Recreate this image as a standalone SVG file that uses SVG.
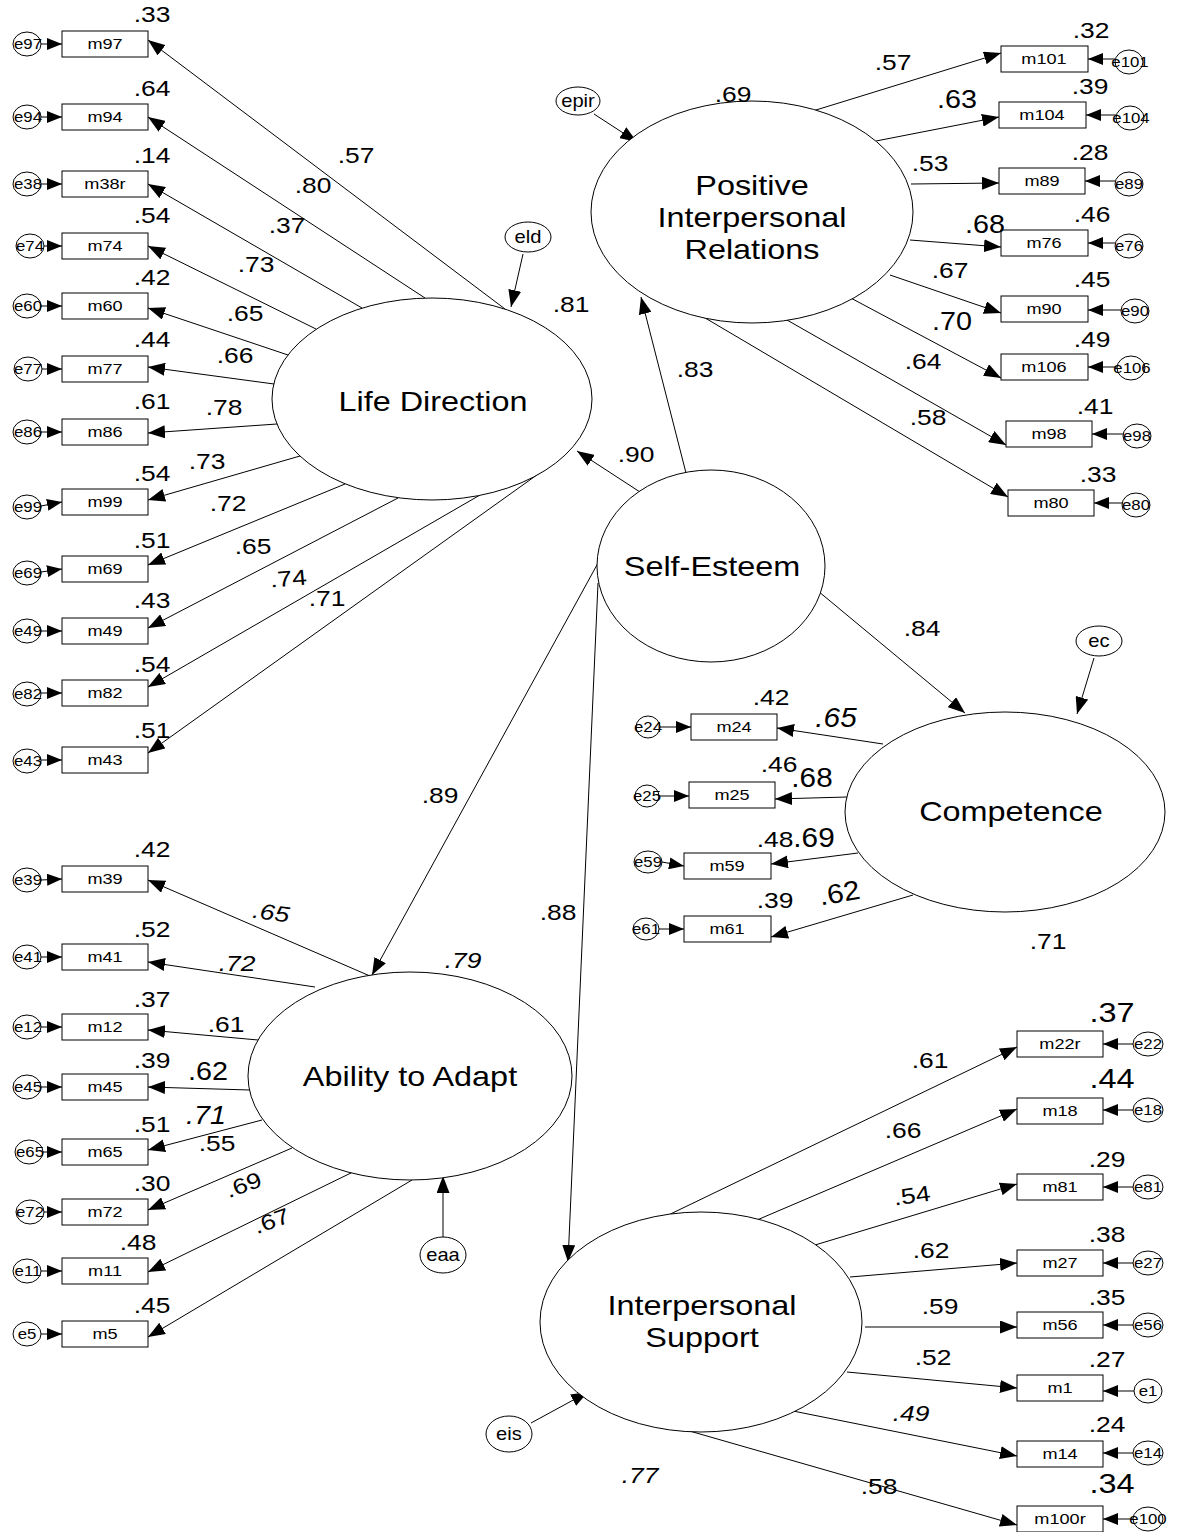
<svg xmlns="http://www.w3.org/2000/svg" width="1177" height="1532" viewBox="0 0 1177 1532">
<style>
text{font-family:"Liberation Sans",Arial,sans-serif;fill:#000;text-anchor:middle}
.lat{fill:#fff;stroke:#000;stroke-width:1}
.box{fill:#fff;stroke:#000;stroke-width:1}
.err{fill:#fff;stroke:#000;stroke-width:1}
.bl{font-size:14.5px}
.el{font-size:14px}
.es{font-size:18px}
.n{font-size:22px}
.nm{font-size:25px}
.nb{font-size:27px}
.ln{font-size:27px}
.it{font-style:italic}
#conn line{stroke:#000;stroke-width:1;marker-end:url(#ah)}
#conn line.s{marker-end:url(#ahs)}
</style>
<defs>
<marker id="ah" markerWidth="17" markerHeight="13" refX="17" refY="6.5" orient="auto" markerUnits="userSpaceOnUse"><path d="M0,0 L17,6.5 L0,13 z" fill="#000"/></marker>
<marker id="ahs" markerWidth="15" markerHeight="12" refX="15" refY="6" orient="auto" markerUnits="userSpaceOnUse"><path d="M0,0 L15,6 L0,12 z" fill="#000"/></marker>
</defs>
<rect width="1177" height="1532" fill="#fff"/>

<g id="conn">
<line x1="505" y1="309" x2="148" y2="40"/>
<line x1="425" y1="298" x2="148" y2="117"/>
<line x1="362" y1="308" x2="148" y2="184"/>
<line x1="316" y1="329" x2="148" y2="246"/>
<line x1="288" y1="355" x2="148" y2="308"/>
<line x1="274" y1="384" x2="148" y2="367"/>
<line x1="277" y1="424" x2="148" y2="433"/>
<line x1="300" y1="456" x2="148" y2="500"/>
<line x1="345" y1="484" x2="148" y2="565"/>
<line x1="398" y1="498" x2="148" y2="628"/>
<line x1="480" y1="495" x2="148" y2="687"/>
<line x1="541" y1="472" x2="148" y2="753"/>
<line x1="370" y1="976" x2="148" y2="880"/>
<line x1="315" y1="987" x2="148" y2="962"/>
<line x1="258" y1="1040" x2="148" y2="1030"/>
<line x1="250" y1="1090" x2="148" y2="1087"/>
<line x1="262" y1="1120" x2="148" y2="1150"/>
<line x1="292" y1="1148" x2="148" y2="1210"/>
<line x1="355" y1="1171" x2="148" y2="1272"/>
<line x1="412" y1="1180" x2="148" y2="1337"/>
<line x1="803" y1="114" x2="1001" y2="53"/>
<line x1="876" y1="141" x2="999" y2="117"/>
<line x1="911" y1="184" x2="999" y2="183"/>
<line x1="910" y1="240" x2="1001" y2="247"/>
<line x1="890" y1="275" x2="1001" y2="313"/>
<line x1="847" y1="296" x2="1001" y2="378"/>
<line x1="780" y1="316" x2="1006" y2="445"/>
<line x1="695" y1="312" x2="1008" y2="497"/>
<line x1="883" y1="744" x2="777" y2="728"/>
<line x1="847" y1="797" x2="775" y2="799"/>
<line x1="858" y1="853" x2="771" y2="864"/>
<line x1="913" y1="895" x2="771" y2="937"/>
<line x1="658" y1="1220" x2="1017" y2="1047"/>
<line x1="757" y1="1220" x2="1017" y2="1109"/>
<line x1="815" y1="1245" x2="1017" y2="1184"/>
<line x1="850" y1="1277" x2="1017" y2="1263"/>
<line x1="865" y1="1327" x2="1017" y2="1327"/>
<line x1="847" y1="1372" x2="1017" y2="1388"/>
<line x1="793" y1="1411" x2="1017" y2="1456"/>
<line x1="686" y1="1430" x2="1017" y2="1525"/>
<line x1="640" y1="492" x2="577" y2="451"/>
<line x1="686" y1="473" x2="641" y2="297"/>
<line x1="818" y1="591" x2="965" y2="713"/>
<line x1="598" y1="563" x2="372" y2="975"/>
<line x1="598" y1="583" x2="568" y2="1262"/>
<line x1="523" y1="254" x2="511" y2="307"/>
<line x1="594" y1="114" x2="637" y2="142"/>
<line x1="1094" y1="658" x2="1077" y2="714"/>
<line x1="443" y1="1237" x2="443" y2="1176"/>
<line x1="531" y1="1423" x2="588" y2="1392"/>
<line class="s" x1="41" y1="44" x2="62" y2="44"/>
<line class="s" x1="41" y1="117" x2="62" y2="117"/>
<line class="s" x1="41" y1="184" x2="62" y2="184"/>
<line class="s" x1="44" y1="246" x2="62" y2="246"/>
<line class="s" x1="41" y1="306" x2="62" y2="306"/>
<line class="s" x1="42" y1="369" x2="62" y2="369"/>
<line class="s" x1="41" y1="432" x2="62" y2="432"/>
<line class="s" x1="41" y1="506" x2="62" y2="502"/>
<line class="s" x1="41" y1="572" x2="62" y2="569"/>
<line class="s" x1="41" y1="631" x2="62" y2="631"/>
<line class="s" x1="41" y1="693" x2="62" y2="693"/>
<line class="s" x1="41" y1="760" x2="62" y2="760"/>
<line class="s" x1="41" y1="880" x2="62" y2="879"/>
<line class="s" x1="41" y1="957" x2="62" y2="957"/>
<line class="s" x1="41" y1="1027" x2="62" y2="1027"/>
<line class="s" x1="41" y1="1087" x2="62" y2="1087"/>
<line class="s" x1="43" y1="1152" x2="62" y2="1152"/>
<line class="s" x1="44" y1="1212" x2="62" y2="1212"/>
<line class="s" x1="41" y1="1271" x2="62" y2="1271"/>
<line class="s" x1="41" y1="1334" x2="62" y2="1334"/>
<line class="s" x1="1115" y1="59" x2="1088" y2="59"/>
<line class="s" x1="1116" y1="115" x2="1086" y2="115"/>
<line class="s" x1="1115" y1="181" x2="1085" y2="181"/>
<line class="s" x1="1115" y1="243" x2="1088" y2="243"/>
<line class="s" x1="1121" y1="310" x2="1088" y2="310"/>
<line class="s" x1="1117" y1="367" x2="1088" y2="367"/>
<line class="s" x1="1123" y1="434" x2="1092" y2="434"/>
<line class="s" x1="1122" y1="503" x2="1094" y2="503"/>
<line class="s" x1="660" y1="727" x2="691" y2="727"/>
<line class="s" x1="659" y1="796" x2="689" y2="796"/>
<line class="s" x1="662" y1="862" x2="684" y2="866"/>
<line class="s" x1="659" y1="929" x2="684" y2="929"/>
<line class="s" x1="1134" y1="1044" x2="1103" y2="1044"/>
<line class="s" x1="1134" y1="1110" x2="1103" y2="1110"/>
<line class="s" x1="1134" y1="1187" x2="1103" y2="1187"/>
<line class="s" x1="1134" y1="1263" x2="1103" y2="1263"/>
<line class="s" x1="1134" y1="1325" x2="1103" y2="1325"/>
<line class="s" x1="1134" y1="1391" x2="1103" y2="1391"/>
<line class="s" x1="1134" y1="1453" x2="1103" y2="1453"/>
<line class="s" x1="1134" y1="1519" x2="1103" y2="1519"/>
</g>

<g id="LD"><ellipse class="lat" cx="432" cy="399" rx="160" ry="101"/><text class="ln" transform="translate(433,411) scale(1.2,1)">Life Direction</text></g>
<g id="PIR"><ellipse class="lat" cx="752" cy="212" rx="161" ry="111"/><text class="ln" transform="translate(752,195) scale(1.2,1)">Positive</text><text class="ln" transform="translate(752,227) scale(1.2,1)">Interpersonal</text><text class="ln" transform="translate(752,259) scale(1.2,1)">Relations</text></g>
<g id="SE"><ellipse class="lat" cx="711" cy="566" rx="114" ry="96"/><text class="ln" transform="translate(712,576) scale(1.2,1)">Self-Esteem</text></g>
<g id="COMP"><ellipse class="lat" cx="1005" cy="812" rx="160" ry="100"/><text class="ln" transform="translate(1011,821) scale(1.2,1)">Competence</text></g>
<g id="AA"><ellipse class="lat" cx="410" cy="1076" rx="162" ry="104"/><text class="ln" transform="translate(410,1086) scale(1.2,1)">Ability to Adapt</text></g>
<g id="IS"><ellipse class="lat" cx="701" cy="1322" rx="161" ry="110"/><text class="ln" transform="translate(702,1315) scale(1.2,1)">Interpersonal</text><text class="ln" transform="translate(702,1347) scale(1.2,1)">Support</text></g>

<g id="eld"><ellipse class="err" cx="528" cy="237" rx="23" ry="15"/><text class="es" transform="translate(528,243) scale(1.12,1)">eld</text></g>
<g id="epir"><ellipse class="err" cx="578" cy="101" rx="22" ry="14"/><text class="es" transform="translate(578,107) scale(1.12,1)">epir</text></g>
<g id="ec"><ellipse class="err" cx="1099" cy="641" rx="23" ry="15"/><text class="es" transform="translate(1099,647) scale(1.12,1)">ec</text></g>
<g id="eaa"><ellipse class="err" cx="443" cy="1255" rx="23" ry="18"/><text class="es" transform="translate(443,1261) scale(1.12,1)">eaa</text></g>
<g id="eis"><ellipse class="err" cx="509" cy="1434" rx="23" ry="18"/><text class="es" transform="translate(509,1440) scale(1.12,1)">eis</text></g>

<g id="m97"><rect class="box" x="62" y="31" width="86" height="26"/><text class="bl" transform="translate(105,49) scale(1.25,1)">m97</text></g>
<g id="m94"><rect class="box" x="62" y="104" width="86" height="26"/><text class="bl" transform="translate(105,122) scale(1.25,1)">m94</text></g>
<g id="m38r"><rect class="box" x="62" y="171" width="86" height="26"/><text class="bl" transform="translate(105,189) scale(1.25,1)">m38r</text></g>
<g id="m74"><rect class="box" x="62" y="233" width="86" height="26"/><text class="bl" transform="translate(105,251) scale(1.25,1)">m74</text></g>
<g id="m60"><rect class="box" x="62" y="293" width="86" height="26"/><text class="bl" transform="translate(105,311) scale(1.25,1)">m60</text></g>
<g id="m77"><rect class="box" x="62" y="356" width="86" height="26"/><text class="bl" transform="translate(105,374) scale(1.25,1)">m77</text></g>
<g id="m86"><rect class="box" x="62" y="419" width="86" height="26"/><text class="bl" transform="translate(105,437) scale(1.25,1)">m86</text></g>
<g id="m99"><rect class="box" x="62" y="489" width="86" height="26"/><text class="bl" transform="translate(105,507) scale(1.25,1)">m99</text></g>
<g id="m69"><rect class="box" x="62" y="556" width="86" height="26"/><text class="bl" transform="translate(105,574) scale(1.25,1)">m69</text></g>
<g id="m49"><rect class="box" x="62" y="618" width="86" height="26"/><text class="bl" transform="translate(105,636) scale(1.25,1)">m49</text></g>
<g id="m82"><rect class="box" x="62" y="680" width="86" height="26"/><text class="bl" transform="translate(105,698) scale(1.25,1)">m82</text></g>
<g id="m43"><rect class="box" x="62" y="747" width="86" height="26"/><text class="bl" transform="translate(105,765) scale(1.25,1)">m43</text></g>

<g id="m39"><rect class="box" x="62" y="866" width="86" height="26"/><text class="bl" transform="translate(105,884) scale(1.25,1)">m39</text></g>
<g id="m41"><rect class="box" x="62" y="944" width="86" height="26"/><text class="bl" transform="translate(105,962) scale(1.25,1)">m41</text></g>
<g id="m12"><rect class="box" x="62" y="1014" width="86" height="26"/><text class="bl" transform="translate(105,1032) scale(1.25,1)">m12</text></g>
<g id="m45"><rect class="box" x="62" y="1074" width="86" height="26"/><text class="bl" transform="translate(105,1092) scale(1.25,1)">m45</text></g>
<g id="m65"><rect class="box" x="62" y="1139" width="86" height="26"/><text class="bl" transform="translate(105,1157) scale(1.25,1)">m65</text></g>
<g id="m72"><rect class="box" x="62" y="1199" width="86" height="26"/><text class="bl" transform="translate(105,1217) scale(1.25,1)">m72</text></g>
<g id="m11"><rect class="box" x="62" y="1258" width="86" height="26"/><text class="bl" transform="translate(105,1276) scale(1.25,1)">m11</text></g>
<g id="m5"><rect class="box" x="62" y="1321" width="86" height="26"/><text class="bl" transform="translate(105,1339) scale(1.25,1)">m5</text></g>

<g id="m101"><rect class="box" x="1001" y="46" width="87" height="26"/><text class="bl" transform="translate(1044,64) scale(1.25,1)">m101</text></g>
<g id="m104"><rect class="box" x="999" y="102" width="87" height="26"/><text class="bl" transform="translate(1042,120) scale(1.25,1)">m104</text></g>
<g id="m89"><rect class="box" x="999" y="168" width="86" height="26"/><text class="bl" transform="translate(1042,186) scale(1.25,1)">m89</text></g>
<g id="m76"><rect class="box" x="1001" y="230" width="87" height="26"/><text class="bl" transform="translate(1044,248) scale(1.25,1)">m76</text></g>
<g id="m90"><rect class="box" x="1001" y="296" width="87" height="26"/><text class="bl" transform="translate(1044,314) scale(1.25,1)">m90</text></g>
<g id="m106"><rect class="box" x="1001" y="354" width="87" height="26"/><text class="bl" transform="translate(1044,372) scale(1.25,1)">m106</text></g>
<g id="m98"><rect class="box" x="1006" y="421" width="86" height="26"/><text class="bl" transform="translate(1049,439) scale(1.25,1)">m98</text></g>
<g id="m80"><rect class="box" x="1008" y="490" width="86" height="26"/><text class="bl" transform="translate(1051,508) scale(1.25,1)">m80</text></g>

<g id="m24"><rect class="box" x="691" y="714" width="86" height="26"/><text class="bl" transform="translate(734,732) scale(1.25,1)">m24</text></g>
<g id="m25"><rect class="box" x="689" y="782" width="86" height="26"/><text class="bl" transform="translate(732,800) scale(1.25,1)">m25</text></g>
<g id="m59"><rect class="box" x="684" y="853" width="87" height="26"/><text class="bl" transform="translate(727,871) scale(1.25,1)">m59</text></g>
<g id="m61"><rect class="box" x="684" y="916" width="87" height="26"/><text class="bl" transform="translate(727,934) scale(1.25,1)">m61</text></g>

<g id="m22r"><rect class="box" x="1017" y="1031" width="86" height="26"/><text class="bl" transform="translate(1060,1049) scale(1.25,1)">m22r</text></g>
<g id="m18"><rect class="box" x="1017" y="1098" width="86" height="26"/><text class="bl" transform="translate(1060,1116) scale(1.25,1)">m18</text></g>
<g id="m81"><rect class="box" x="1017" y="1174" width="86" height="26"/><text class="bl" transform="translate(1060,1192) scale(1.25,1)">m81</text></g>
<g id="m27"><rect class="box" x="1017" y="1250" width="86" height="26"/><text class="bl" transform="translate(1060,1268) scale(1.25,1)">m27</text></g>
<g id="m56"><rect class="box" x="1017" y="1312" width="86" height="26"/><text class="bl" transform="translate(1060,1330) scale(1.25,1)">m56</text></g>
<g id="m1"><rect class="box" x="1017" y="1375" width="86" height="26"/><text class="bl" transform="translate(1060,1393) scale(1.25,1)">m1</text></g>
<g id="m14"><rect class="box" x="1017" y="1441" width="86" height="26"/><text class="bl" transform="translate(1060,1459) scale(1.25,1)">m14</text></g>
<g id="m100r"><rect class="box" x="1017" y="1506" width="86" height="26"/><text class="bl" transform="translate(1060,1524) scale(1.25,1)">m100r</text></g>

<g id="e97"><ellipse class="err" cx="27" cy="44" rx="14" ry="12"/><text class="el" transform="translate(28,49) scale(1.2,1)">e97</text></g>
<g id="e94"><ellipse class="err" cx="27" cy="117" rx="14" ry="12"/><text class="el" transform="translate(28,122) scale(1.2,1)">e94</text></g>
<g id="e38"><ellipse class="err" cx="27" cy="184" rx="14" ry="12"/><text class="el" transform="translate(28,189) scale(1.2,1)">e38</text></g>
<g id="e74"><ellipse class="err" cx="30" cy="246" rx="14" ry="12"/><text class="el" transform="translate(30,251) scale(1.2,1)">e74</text></g>
<g id="e60"><ellipse class="err" cx="27" cy="306" rx="14" ry="12"/><text class="el" transform="translate(28,311) scale(1.2,1)">e60</text></g>
<g id="e77"><ellipse class="err" cx="28" cy="369" rx="14" ry="12"/><text class="el" transform="translate(28,374) scale(1.2,1)">e77</text></g>
<g id="e86"><ellipse class="err" cx="27" cy="432" rx="14" ry="12"/><text class="el" transform="translate(28,437) scale(1.2,1)">e86</text></g>
<g id="e99"><ellipse class="err" cx="27" cy="507" rx="14" ry="12"/><text class="el" transform="translate(28,512) scale(1.2,1)">e99</text></g>
<g id="e69"><ellipse class="err" cx="27" cy="573" rx="14" ry="12"/><text class="el" transform="translate(28,578) scale(1.2,1)">e69</text></g>
<g id="e49"><ellipse class="err" cx="27" cy="631" rx="14" ry="12"/><text class="el" transform="translate(28,636) scale(1.2,1)">e49</text></g>
<g id="e82"><ellipse class="err" cx="27" cy="694" rx="14" ry="12"/><text class="el" transform="translate(28,699) scale(1.2,1)">e82</text></g>
<g id="e43"><ellipse class="err" cx="27" cy="761" rx="14" ry="12"/><text class="el" transform="translate(28,766) scale(1.2,1)">e43</text></g>
<g id="e39"><ellipse class="err" cx="27" cy="880" rx="14" ry="12"/><text class="el" transform="translate(28,885) scale(1.2,1)">e39</text></g>
<g id="e41"><ellipse class="err" cx="27" cy="957" rx="14" ry="12"/><text class="el" transform="translate(28,962) scale(1.2,1)">e41</text></g>
<g id="e12"><ellipse class="err" cx="27" cy="1027" rx="14" ry="12"/><text class="el" transform="translate(28,1032) scale(1.2,1)">e12</text></g>
<g id="e45"><ellipse class="err" cx="27" cy="1087" rx="14" ry="12"/><text class="el" transform="translate(28,1092) scale(1.2,1)">e45</text></g>
<g id="e65"><ellipse class="err" cx="29" cy="1152" rx="14" ry="12"/><text class="el" transform="translate(30,1157) scale(1.2,1)">e65</text></g>
<g id="e72"><ellipse class="err" cx="30" cy="1212" rx="14" ry="12"/><text class="el" transform="translate(30,1217) scale(1.2,1)">e72</text></g>
<g id="e11"><ellipse class="err" cx="27" cy="1271" rx="14" ry="12"/><text class="el" transform="translate(28,1276) scale(1.2,1)">e11</text></g>
<g id="e5"><ellipse class="err" cx="27" cy="1334" rx="14" ry="12"/><text class="el" transform="translate(27,1339) scale(1.2,1)">e5</text></g>

<g id="e101"><ellipse class="err" cx="1129" cy="62" rx="14" ry="12"/><text class="el" transform="translate(1130,67) scale(1.2,1)">e101</text></g>
<g id="e104"><ellipse class="err" cx="1130" cy="118" rx="14" ry="12"/><text class="el" transform="translate(1131,123) scale(1.2,1)">e104</text></g>
<g id="e89"><ellipse class="err" cx="1129" cy="184" rx="14" ry="12"/><text class="el" transform="translate(1129,189) scale(1.2,1)">e89</text></g>
<g id="e76"><ellipse class="err" cx="1129" cy="246" rx="14" ry="12"/><text class="el" transform="translate(1129,251) scale(1.2,1)">e76</text></g>
<g id="e90"><ellipse class="err" cx="1135" cy="311" rx="14" ry="12"/><text class="el" transform="translate(1135,316) scale(1.2,1)">e90</text></g>
<g id="e106"><ellipse class="err" cx="1131" cy="368" rx="14" ry="12"/><text class="el" transform="translate(1132,373) scale(1.2,1)">e106</text></g>
<g id="e98"><ellipse class="err" cx="1137" cy="436" rx="14" ry="12"/><text class="el" transform="translate(1137,441) scale(1.2,1)">e98</text></g>
<g id="e80"><ellipse class="err" cx="1136" cy="505" rx="14" ry="12"/><text class="el" transform="translate(1136,510) scale(1.2,1)">e80</text></g>

<g id="e24"><ellipse class="err" cx="648" cy="727" rx="12" ry="11"/><text class="el" transform="translate(648,732) scale(1.2,1)">e24</text></g>
<g id="e25"><ellipse class="err" cx="647" cy="796" rx="12" ry="11"/><text class="el" transform="translate(647,801) scale(1.2,1)">e25</text></g>
<g id="e59"><ellipse class="err" cx="648" cy="862" rx="14" ry="11"/><text class="el" transform="translate(648,867) scale(1.2,1)">e59</text></g>
<g id="e61"><ellipse class="err" cx="646" cy="929" rx="13" ry="11"/><text class="el" transform="translate(646,934) scale(1.2,1)">e61</text></g>

<g id="e22"><ellipse class="err" cx="1148" cy="1044" rx="15" ry="12"/><text class="el" transform="translate(1148,1049) scale(1.2,1)">e22</text></g>
<g id="e18"><ellipse class="err" cx="1148" cy="1110" rx="15" ry="12"/><text class="el" transform="translate(1148,1115) scale(1.2,1)">e18</text></g>
<g id="e81"><ellipse class="err" cx="1148" cy="1187" rx="15" ry="12"/><text class="el" transform="translate(1148,1192) scale(1.2,1)">e81</text></g>
<g id="e27"><ellipse class="err" cx="1148" cy="1263" rx="15" ry="12"/><text class="el" transform="translate(1148,1268) scale(1.2,1)">e27</text></g>
<g id="e56"><ellipse class="err" cx="1148" cy="1325" rx="15" ry="12"/><text class="el" transform="translate(1148,1330) scale(1.2,1)">e56</text></g>
<g id="e1"><ellipse class="err" cx="1148" cy="1391" rx="14" ry="12"/><text class="el" transform="translate(1148,1396) scale(1.2,1)">e1</text></g>
<g id="e14"><ellipse class="err" cx="1148" cy="1453" rx="15" ry="12"/><text class="el" transform="translate(1148,1458) scale(1.2,1)">e14</text></g>
<g id="e100"><ellipse class="err" cx="1148" cy="1519" rx="15" ry="12"/><text class="el" transform="translate(1148,1524) scale(1.2,1)">e100</text></g>

<g id="r2">
<text class="n" transform="translate(152,22) scale(1.2,1)">.33</text>
<text class="n" transform="translate(152,96) scale(1.2,1)">.64</text>
<text class="n" transform="translate(152,163) scale(1.2,1)">.14</text>
<text class="n" transform="translate(152,223) scale(1.2,1)">.54</text>
<text class="n" transform="translate(152,285) scale(1.2,1)">.42</text>
<text class="n" transform="translate(152,347) scale(1.2,1)">.44</text>
<text class="n" transform="translate(152,409) scale(1.2,1)">.61</text>
<text class="n" transform="translate(152,481) scale(1.2,1)">.54</text>
<text class="n" transform="translate(152,548) scale(1.2,1)">.51</text>
<text class="n" transform="translate(152,608) scale(1.2,1)">.43</text>
<text class="n" transform="translate(152,672) scale(1.2,1)">.54</text>
<text class="n" transform="translate(152,738) scale(1.2,1)">.51</text>
<text class="n" transform="translate(152,857) scale(1.2,1)">.42</text>
<text class="n" transform="translate(152,937) scale(1.2,1)">.52</text>
<text class="n" transform="translate(152,1007) scale(1.2,1)">.37</text>
<text class="n" transform="translate(152,1068) scale(1.2,1)">.39</text>
<text class="n" transform="translate(152,1132) scale(1.2,1)">.51</text>
<text class="n" transform="translate(152,1191) scale(1.2,1)">.30</text>
<text class="n" transform="translate(138,1250) scale(1.2,1)">.48</text>
<text class="n" transform="translate(152,1313) scale(1.2,1)">.45</text>
<text class="n" transform="translate(1091,38) scale(1.2,1)">.32</text>
<text class="n" transform="translate(1090,94) scale(1.2,1)">.39</text>
<text class="n" transform="translate(1090,160) scale(1.2,1)">.28</text>
<text class="n" transform="translate(1092,222) scale(1.2,1)">.46</text>
<text class="n" transform="translate(1092,287) scale(1.2,1)">.45</text>
<text class="n" transform="translate(1092,347) scale(1.2,1)">.49</text>
<text class="n" transform="translate(1095,414) scale(1.2,1)">.41</text>
<text class="n" transform="translate(1098,482) scale(1.2,1)">.33</text>
<text class="n" transform="translate(771,705) scale(1.2,1)">.42</text>
<text class="n" transform="translate(779,772) scale(1.2,1)">.46</text>
<text class="n" transform="translate(775,847) scale(1.2,1)">.48</text>
<text class="n" transform="translate(775,908) scale(1.2,1)">.39</text>
<text class="nb" transform="translate(1112,1022) scale(1.2,1)">.37</text>
<text class="nb" transform="translate(1112,1088) scale(1.2,1)">.44</text>
<text class="n" transform="translate(1107,1167) scale(1.2,1)">.29</text>
<text class="n" transform="translate(1107,1242) scale(1.2,1)">.38</text>
<text class="n" transform="translate(1107,1305) scale(1.2,1)">.35</text>
<text class="n" transform="translate(1107,1367) scale(1.2,1)">.27</text>
<text class="n" transform="translate(1107,1432) scale(1.2,1)">.24</text>
<text class="nb" transform="translate(1112,1493) scale(1.2,1)">.34</text>
<text class="n" transform="translate(571,312) scale(1.2,1)">.81</text>
<text class="n" transform="translate(733,102) scale(1.2,1)">.69</text>
<text class="n" transform="translate(1048,949) scale(1.2,1)">.71</text>
<text class="n it" transform="translate(463,968) scale(1.2,1)">.79</text>
<text class="n it" transform="translate(640,1483) scale(1.2,1)">.77</text>
</g>

<g id="coef">
<text class="n" transform="translate(356,163) scale(1.2,1)">.57</text>
<text class="n" transform="translate(313,193) scale(1.2,1)">.80</text>
<text class="n" transform="translate(287,233) scale(1.2,1)">.37</text>
<text class="n" transform="translate(256,272) scale(1.2,1)">.73</text>
<text class="n" transform="translate(245,321) scale(1.2,1)">.65</text>
<text class="n" transform="translate(235,363) scale(1.2,1)">.66</text>
<text class="n" transform="translate(224,415) scale(1.2,1)">.78</text>
<text class="n" transform="translate(207,469) scale(1.2,1)">.73</text>
<text class="n" transform="translate(228,511) scale(1.2,1)">.72</text>
<text class="n" transform="translate(253,554) scale(1.2,1)">.65</text>
<text class="n" transform="translate(289,586) rotate(-5) scale(1.2,1)">.74</text>
<text class="n" transform="translate(327,606) scale(1.2,1)">.71</text>
<text class="n it" transform="translate(270,920) rotate(8) scale(1.2,1)">.65</text>
<text class="n it" transform="translate(237,971) scale(1.2,1)">.72</text>
<text class="n" transform="translate(226,1032) scale(1.2,1)">.61</text>
<text class="nm" transform="translate(208,1080) scale(1.15,1)">.62</text>
<text class="nm it" transform="translate(206,1124) scale(1.15,1)">.71</text>
<text class="n" transform="translate(217,1151) scale(1.2,1)">.55</text>
<text class="n" transform="translate(246,1192) rotate(-20) scale(1.2,1)">.69</text>
<text class="n" transform="translate(274,1228) rotate(-20) scale(1.2,1)">.67</text>
<text class="n" transform="translate(893,70) scale(1.2,1)">.57</text>
<text class="nm" transform="translate(957,108) scale(1.15,1)">.63</text>
<text class="n" transform="translate(930,171) scale(1.2,1)">.53</text>
<text class="nm" transform="translate(985,233) scale(1.15,1)">.68</text>
<text class="n" transform="translate(950,278) scale(1.2,1)">.67</text>
<text class="nm" transform="translate(952,330) scale(1.15,1)">.70</text>
<text class="n" transform="translate(923,369) scale(1.2,1)">.64</text>
<text class="n" transform="translate(928,425) scale(1.2,1)">.58</text>
<text class="nb it" transform="translate(836,727) scale(1.1,1)">.65</text>
<text class="nb" transform="translate(812,787) scale(1.1,1)">.68</text>
<text class="nb" transform="translate(814,847) scale(1.1,1)">.69</text>
<text class="nb" transform="translate(841,902) rotate(-10) scale(1.1,1)">.62</text>
<text class="n" transform="translate(930,1068) scale(1.2,1)">.61</text>
<text class="n" transform="translate(903,1138) scale(1.2,1)">.66</text>
<text class="n" transform="translate(913,1203) rotate(-8) scale(1.2,1)">.54</text>
<text class="n" transform="translate(931,1258) scale(1.2,1)">.62</text>
<text class="n" transform="translate(940,1314) scale(1.2,1)">.59</text>
<text class="n" transform="translate(933,1365) scale(1.2,1)">.52</text>
<text class="n it" transform="translate(911,1421) scale(1.2,1)">.49</text>
<text class="n" transform="translate(879,1494) scale(1.2,1)">.58</text>
<text class="n" transform="translate(636,462) scale(1.2,1)">.90</text>
<text class="n" transform="translate(695,377) scale(1.2,1)">.83</text>
<text class="n" transform="translate(922,636) scale(1.2,1)">.84</text>
<text class="n" transform="translate(440,803) scale(1.2,1)">.89</text>
<text class="n" transform="translate(558,920) scale(1.2,1)">.88</text>
</g>
</svg>
